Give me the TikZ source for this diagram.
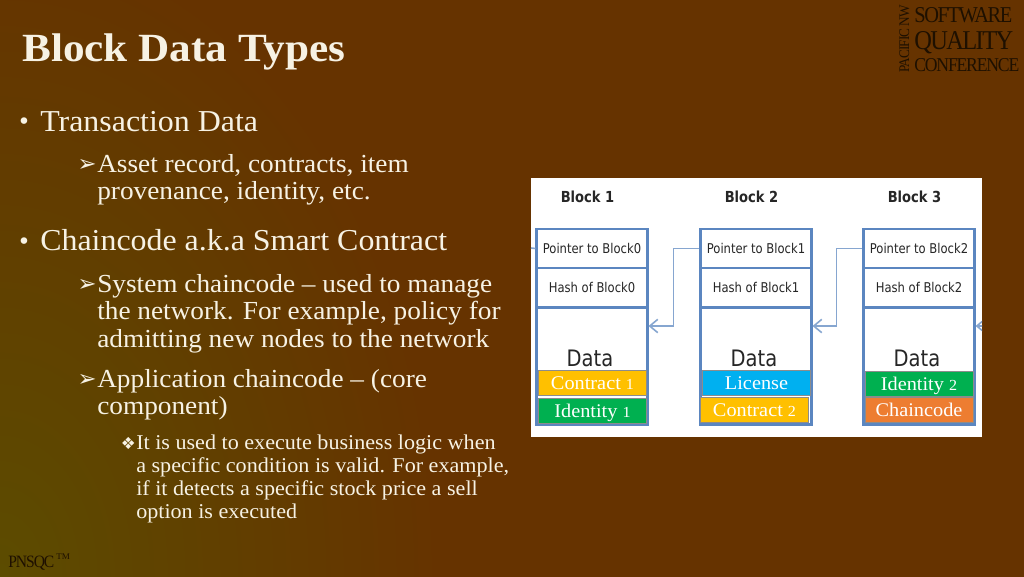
\documentclass[tikz,border=0pt]{standalone}
\usepackage{fontspec}
\usepackage{tikz}
\usetikzlibrary{arrows.meta}
\setmainfont[FakeStretch=1.05]{Liberation Serif}
\newfontfamily\titlefont[FakeStretch=1.08]{Liberation Serif}
\newfontfamily\blockfont[FakeStretch=0.86]{DejaVu Sans}
\newfontfamily\symbfont{DejaVu Sans}
\newfontfamily\logofont[FakeStretch=0.9,LetterSpace=-6]{Liberation Serif}
\definecolor{slidetop}{HTML}{663300}
\definecolor{slidelow}{HTML}{5C4C00}
\definecolor{cream}{HTML}{F7F2E4}
\definecolor{logoink}{HTML}{1E1000}
\definecolor{blockblue}{HTML}{5B86C0}
\definecolor{linkblue}{HTML}{86A6D0}
\definecolor{amberbox}{HTML}{FFC000}
\definecolor{greenbox}{HTML}{00B050}
\definecolor{skybox}{HTML}{00B0F0}
\definecolor{carrotbox}{HTML}{ED7D31}
\newcommand{\onum}[1]{{\fontsize{11.5}{12}\selectfont #1}}
\tikzset{
  mainitem/.style={anchor=base west,inner sep=0,text=cream,font=\fontsize{22.8}{27}\selectfont},
  subitem/.style={anchor=north west,inner sep=0,text=cream,align=left,font=\fontsize{19.5}{20.6}\selectfont},
  subsubitem/.style={anchor=north west,inner sep=0,text=cream,align=left,font=\fontsize{15.8}{17.25}\selectfont},
  itembullet/.style={anchor=base east,inner sep=0,text=cream,font=\symbfont\fontsize{17}{19}\selectfont},
  cell/.style={draw=blockblue,line width=1.8pt,fill=white,minimum width=83pt,inner sep=0,text=black!85,font=\blockfont\fontsize{10.1}{12}\selectfont},
  tag/.style={draw=black!45,line width=.6pt,minimum width=81pt,minimum height=19pt,inner sep=0,text height=11pt,text depth=2pt,text=white,font=\fontsize{14.5}{16}\selectfont},
  link/.style={draw=linkblue,line width=1.2pt,-{Straight Barb[length=6pt,width=10pt]}},
}
\begin{document}
\begin{tikzpicture}[x=0.75pt,y=-0.75pt]
    \useasboundingbox (0,0) rectangle (1024,576);
    % draw background
    \begin{scope}
      \clip (-4,-4) rectangle (1028,580);
      \fill[slidetop] (-4,-4) rectangle (1028,580);
      \shade[inner color=slidelow,outer color=slidetop] (0,576) ellipse (440 and 640);
    \end{scope}

    % draw title and logos
    \node[anchor=base west,inner sep=0,text=cream,font=\titlefont\bfseries\fontsize{30}{33}\selectfont] (title) at (22,61) {Block Data Types};
    \node[anchor=base west,inner sep=0,text=logoink,font=\logofont\fontsize{17}{20}\selectfont] (logoa) at (914,22) {SOFTWARE};
    \node[anchor=base west,inner sep=0,text=logoink,font=\logofont\fontsize{20.4}{24}\selectfont] (logob) at (914,49) {QUALITY};
    \node[anchor=base west,inner sep=0,text=logoink,font=\logofont\fontsize{14.7}{18}\selectfont] (logoc) at (914,71) {CONFERENCE};
    \node[anchor=base west,inner sep=0,rotate=90,text=logoink,font=\logofont\fontsize{11}{14}\selectfont] (logod) at (909,73) {PACIFIC NW};
    \node[anchor=base west,inner sep=0,text=logoink,font=\logofont\fontsize{13}{16}\selectfont] (pnsqc) at (8,567) {PNSQC};
    \node[anchor=base west,inner sep=0,text=logoink,font=\fontsize{6.5}{8}\selectfont] (tm) at (56,559) {TM};

    % draw text on the left
    \node[itembullet] (b1) at (31,129) {•};
    \node[mainitem] (transaction) at (40,131) {Transaction Data};
    \node[itembullet] (b2) at (97,171) {➢};
    \node[subitem] (asset) at (97,154) {Asset record, contracts, item\\provenance, identity, etc.};
    \node[itembullet] (b3) at (31,249) {•};
    \node[mainitem] (chaincode) at (40,250) {Chaincode a.k.a Smart Contract};
    \node[itembullet] (b4) at (97,291) {➢};
    \node[subitem] (system) at (97,274) {System chaincode -- used to manage\\the network. For example, policy for\\admitting new nodes to the network};
    \node[itembullet] (b5) at (97,386) {➢};
    \node[subitem] (application) at (97,369) {Application chaincode -- (core\\component)};
    \node[itembullet,font=\symbfont\fontsize{12.5}{14}\selectfont] (b6) at (136,449) {❖};
    \node[subsubitem] (logic) at (136,435) {It is used to execute business logic when\\a specific condition is valid. For example,\\if it detects a specific stock price a sell\\option is executed};

    % draw white panel
    \fill[white] (531,178) rectangle (982,437);

    % draw blocks
    \foreach \n/\p/\x in {1/0/592,2/1/756,3/2/919} {
      \node[font=\blockfont\bfseries\fontsize{11.4}{13}\selectfont,text=black!85] (head\n) at (\x-4.5,197) {Block \n};
      \node[cell,minimum height=29pt] (pointer\n) at (\x,248.5) {Pointer to Block\p};
      \node[cell,minimum height=29pt] (hash\n) at (\x,287.5) {Hash of Block\p};
      \node[cell,minimum height=88pt] (data\n) at (\x,366) {};
      \node[inner sep=0,text=black!85,font=\blockfont\fontsize{17}{19}\selectfont] (label\n) at (\x-2,358) {Data};
      \coordinate (in\n) at (\x+56.5,326);
    }

    % draw coloured tags
    \node[tag,fill=amberbox] (contracta) at (592.5,383) {Contract \onum{1}};
    \node[tag,fill=greenbox] (identitya) at (592.5,411) {Identity \onum{1}};
    \node[tag,fill=skybox] (license) at (756.5,383) {License};
    \node[tag,fill=amberbox] (contractb) at (754.5,410) {Contract \onum{2}};
    \node[tag,fill=greenbox] (identityb) at (919,384) {Identity \onum{2}};
    \node[tag,fill=carrotbox] (chain) at (919,410) {Chaincode};

    % draw links
    \coordinate (stub) at (531,248);
    \coordinate (edge) at (990,326);
    \draw[draw=linkblue,line width=1.2pt] (pointer1.west) -- (stub);
    \draw[link] (pointer2.west) -- ++(-26,0) |- (in1);
    \draw[link] (pointer3.west) -- ++(-26,0) |- (in2);
    \begin{scope}
      \clip (531,178) rectangle (982,437);
      \draw[link] (edge) -- (in3);
    \end{scope}
\end{tikzpicture}
\end{document}
